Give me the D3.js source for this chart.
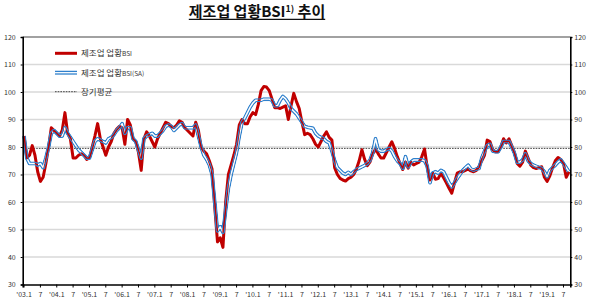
<!DOCTYPE html>
<html><head><meta charset="utf-8">
<script src="https://cdn.jsdelivr.net/npm/d3@7"></script>
<style>body{margin:0;background:#fff}svg{display:block}</style>
</head><body>
<svg id="c" width="594" height="301"></svg>
<script>
// monthly data, 2003.1 – 2019.9
const bsi = [
 84,76,77,80.5,77,71,67.5,69,74,80,87,86,
 85,84,86,92.5,85,83,76,76,77,77.5,77,75.5,
 76,80,84,88.5,83,80,77,80,82,85,86.5,87.5,
 87,81,90,88,83,82,78,71.5,83,85.5,84,82,
 80,83,85,87,89,88.5,87.5,87,88,89.5,89,87,
 86,85,84,89,86,80,78.5,77.5,75,72,58,45.5,
 47,43.5,60,70,73.5,77,81,88,90,88.5,88.5,91,
 92.5,91.8,95.5,100.5,102,101.8,100.5,97.5,94.3,94.3,94,94.5,
 95,90,95,99.5,96.5,94,89,84.5,85,84.5,83,81,
 80,82,84,85.5,83.5,82.5,72.5,70,68.6,68,67.6,68.5,
 69,70,72,75,79,75.5,73.2,74.6,77.5,79.3,77.5,76,
 76,78,80,81.9,79.5,76.5,74,71.8,74.5,72.3,74.4,73.5,
 74,74.5,76.5,79.3,72.5,68,70.5,68.3,68.5,70.4,68.8,67,
 65,63.2,67,70.5,71,71,71.5,72,71.3,71,71.5,73,
 75,77,82.5,82,79,78.3,78.3,80,83,81.5,83,80.5,
 78,74,73,74.5,78.5,76,73.4,72.5,72.2,72.5,72.8,69,
 67.5,69.5,72.5,75,76.2,75.5,74,69,71
];
const bsiSA = [
 84,76,74,74,74,73.5,74,72.5,76,80,85,86,
 85,84,84,87,85,83.5,82,80.5,79,78,77,76,
 76,79,82,83,82.5,82,81.5,83,83.5,84.5,86,87,
 88.5,85,87,87,83,82,79,76,83,84,84.5,85,
 84,84,85,86,87.5,88,87.5,86,87,88,88.5,87,
 87,87,87,88,84,80,77,75.5,73.5,70,60,49.5,
 51,49,57,65,70,74,78,84,89,90.5,92.5,94.5,
 96,97,97,97,97.4,97.4,97.4,97,95,95,97,98.4,
 97.5,96,94,93,92,90.5,89,87.5,87.2,87,86.8,85,
 84,83.5,83,82,81.5,78.5,75,72.5,71.5,70.5,70,70.8,
 70,71,71.8,72.3,72.8,73.3,74,75.3,78,83,79,78.5,
 78.5,79,79.5,78.5,76.5,75,74,72.3,76.5,72.8,74.5,75.3,
 75.3,75.3,75.3,75,73,67,70.5,71,70.5,71.5,71,69,
 67,65.5,67,68.6,70,71.5,72.5,73.4,72,71.6,72,72.2,
 76,78.5,80.5,81,78.5,78.3,78.3,80,82,82,82,80,
 77.7,74.5,74.5,75.3,77.5,75,74,73.4,73,72.6,72.2,71,
 69.2,71.5,72.5,73.4,74.5,75.3,74,72.5,71
];
const longTermAvg = 79.5;
const yTicks = [30,40,50,60,70,80,90,100,110,120];
const xTickLabels = ["'03.1","7","'04.1","7","'05.1","7","'06.1","7","'07.1","7","'08.1","7",
 "'09.1","7","'10.1","7","'11.1","7","'12.1","7","'13.1","7","'14.1","7","'15.1","7",
 "'16.1","7","'17.1","7","'18.1","7","'19.1","7"];
const seriesNames = ["제조업 업황", "BSI", "(SA)", "장기평균"];

const L=22.7, R=570.3, T=37, B=284.5;
const FONT = "'Noto Sans CJK KR','Noto Sans',sans-serif";
const svg = d3.select("#c");
const n = bsi.length;
const band = d3.scaleBand().domain(d3.range(n)).range([L,R]).paddingInner(0).paddingOuter(0);
const x = i => band(i) + band.bandwidth()/2;
const y = d3.scaleLinear().domain([30,120]).range([B,T]);

// gridlines
svg.append("g").selectAll("line").data(yTicks.filter(v=>v>30&&v<120)).join("line")
  .attr("x1",L).attr("x2",R).attr("y1",d=>y(d)).attr("y2",d=>y(d))
  .attr("stroke","#d9d9d9").attr("stroke-width",1.3);

// long-term average
svg.append("line").attr("x1",L).attr("x2",R).attr("y1",y(longTermAvg)).attr("y2",y(longTermAvg))
  .attr("stroke","#444").attr("stroke-width",1).attr("stroke-dasharray","1.6,1.1");

const line = d3.line().x((d,i)=>x(i)).y(d=>y(d));

// red BSI
svg.append("path").datum(bsi).attr("d",line).attr("fill","none")
  .attr("stroke","#C00000").attr("stroke-width",3).attr("stroke-linejoin","round");

// SA double line via mask
const defs = svg.append("defs");
const m = defs.append("mask").attr("id","dbl").attr("maskUnits","userSpaceOnUse")
  .attr("x",0).attr("y",0).attr("width",594).attr("height",301);
m.append("path").datum(bsiSA).attr("d",line).attr("fill","none").attr("stroke","#fff").attr("stroke-width",4).attr("stroke-linejoin","round");
m.append("path").datum(bsiSA).attr("d",line).attr("fill","none").attr("stroke","#000").attr("stroke-width",1.4).attr("stroke-linejoin","round");
svg.append("path").datum(bsiSA).attr("d",line).attr("fill","none")
  .attr("stroke","#2F80CC").attr("stroke-width",4).attr("stroke-linejoin","round").attr("mask","url(#dbl)");

// frame
svg.append("line").attr("x1",L).attr("x2",R).attr("y1",T).attr("y2",T).attr("stroke","#444").attr("stroke-width",1.2);

// axes
const fmtY = d=>d;
const gl = svg.append("g").attr("transform",`translate(${L},0)`)
  .call(d3.axisLeft(y).tickValues(yTicks).tickSize(2).tickPadding(5).tickFormat(fmtY));
const gr = svg.append("g").attr("transform",`translate(${R},0)`)
  .call(d3.axisRight(y).tickValues(yTicks).tickSize(2).tickPadding(2).tickFormat(fmtY));
const tickIdx = d3.range(0,n,6);
const gb = svg.append("g").attr("transform",`translate(0,${B})`)
  .call(d3.axisBottom(band).tickValues(tickIdx).tickSize(3).tickPadding(3)
    .tickFormat(i=>xTickLabels[i/6]));
[gl,gr,gb].forEach(g=>{
  g.select(".domain").attr("stroke","#000").attr("stroke-width",1.6);
  g.selectAll(".tick line").attr("stroke","#000").attr("stroke-width",1);
  g.selectAll("text").attr("fill","#333").style("font-family",FONT).style("font-size","7px");
});
gb.selectAll("text").attr("dy","0.9em");

// legend
const lg = svg.append("g");
const ly = [53.3, 72.7, 91.7];
lg.append("line").attr("x1",55).attr("x2",77).attr("y1",ly[0]).attr("y2",ly[0])
  .attr("stroke","#C00000").attr("stroke-width",3);
lg.append("line").attr("x1",55).attr("x2",77).attr("y1",ly[1]-1.3).attr("y2",ly[1]-1.3).attr("stroke","#2F80CC").attr("stroke-width",1.3);
lg.append("line").attr("x1",55).attr("x2",77).attr("y1",ly[1]+1.3).attr("y2",ly[1]+1.3).attr("stroke","#2F80CC").attr("stroke-width",1.3);
lg.append("line").attr("x1",55).attr("x2",77).attr("y1",ly[2]).attr("y2",ly[2])
  .attr("stroke","#444").attr("stroke-width",1).attr("stroke-dasharray","1.6,1.1");
const t1 = lg.append("text").attr("x",81).attr("y",ly[0]+3).attr("fill","#333").style("font-family",FONT);
t1.append("tspan").style("font-size","8.5px").text(seriesNames[0]);
t1.append("tspan").style("font-size","6.5px").text(seriesNames[1]);
const t2 = lg.append("text").attr("x",81).attr("y",ly[1]+3).attr("fill","#333").style("font-family",FONT);
t2.append("tspan").style("font-size","8.5px").text(seriesNames[0]);
t2.append("tspan").style("font-size","6.5px").text(seriesNames[1]+seriesNames[2]);
lg.append("text").attr("x",81).attr("y",ly[2]+3).attr("fill","#333").style("font-family",FONT)
  .style("font-size","8.5px").text(seriesNames[3]);

// title
const tt = svg.append("text").attr("x",257).attr("y",16.5).attr("text-anchor","middle")
  .attr("fill","#111").style("font-family",FONT).style("font-weight","bold").style("font-size","15px");
tt.append("tspan").text("제조업 업황BSI");
tt.append("tspan").attr("dy",-5).style("font-size","9px").text("1)");
tt.append("tspan").attr("dy",5).text(" 추이");
const bb = tt.node().getBBox();
svg.append("line").attr("x1",bb.x).attr("x2",bb.x+bb.width).attr("y1",19.3).attr("y2",19.3)
  .attr("stroke","#111").attr("stroke-width",1.2);
</script>
</body></html>
